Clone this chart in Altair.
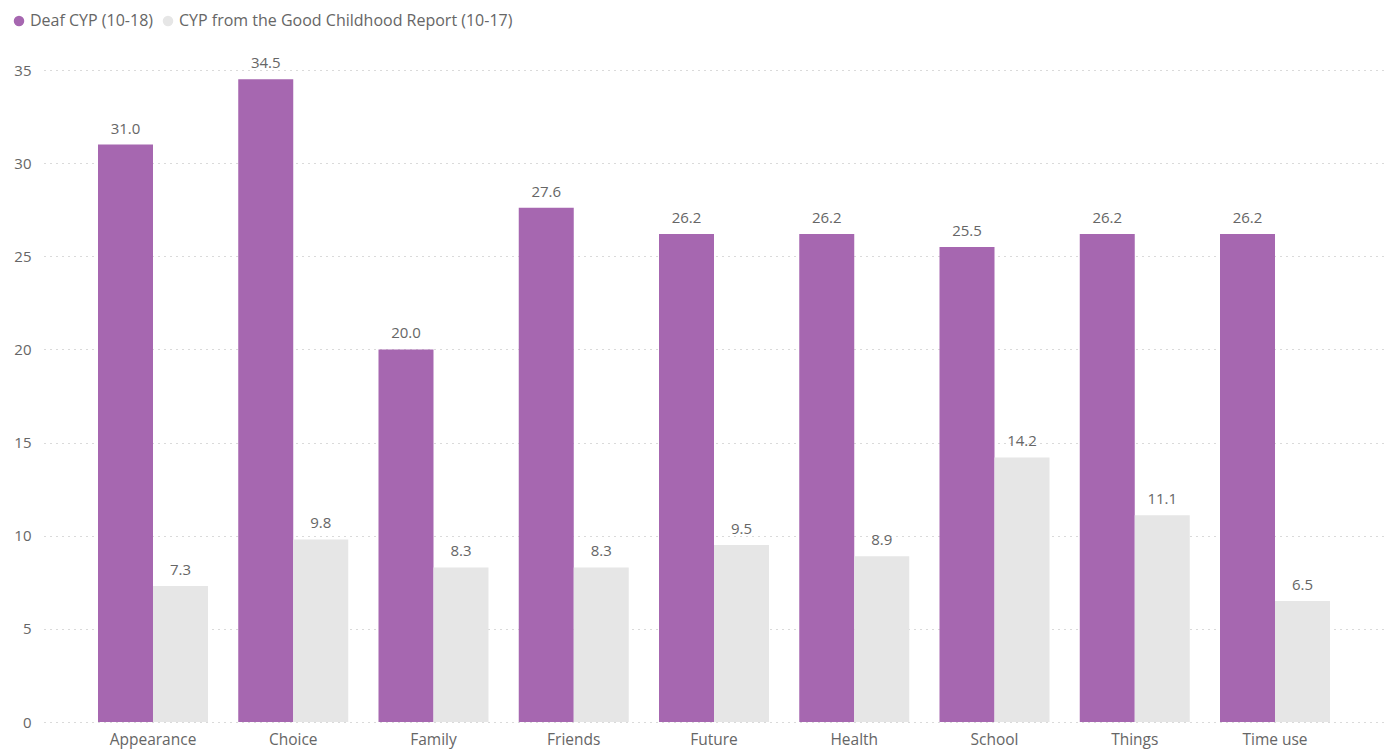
import altair as alt
import pandas as pd

categories = ["Appearance", "Choice", "Family", "Friends", "Future", "Health", "School", "Things", "Time use"]
deaf = [31.0, 34.5, 20.0, 27.6, 26.2, 26.2, 25.5, 26.2, 26.2]
good = [7.3, 9.8, 8.3, 8.3, 9.5, 8.9, 14.2, 11.1, 6.5]
series = ["Deaf CYP (10-18)", "CYP from the Good Childhood Report (10-17)"]
colors = ["#A667B0", "#E6E6E6"]

rows = []
for c, a, b in zip(categories, deaf, good):
    rows.append({"category": c, "series": series[0], "value": a})
    rows.append({"category": c, "series": series[1], "value": b})
df = pd.DataFrame(rows)

FONT = "Open Sans"
TXT = "#666666"

x = alt.X("category:N", sort=categories, title=None,
          scale=alt.Scale(paddingInner=0.2157, paddingOuter=0.385),
          axis=alt.Axis(labelAngle=0, labelFontSize=15.5, labelColor=TXT, labelFont=FONT,
                        ticks=False, domain=False, grid=False, labelPadding=10))
xo = alt.XOffset("series:N", sort=series, scale=alt.Scale(domain=series, paddingInner=0, paddingOuter=0))
y = alt.Y("value:Q", title=None,
          scale=alt.Scale(domain=[0, 35], nice=False),
          axis=alt.Axis(values=[0, 5, 10, 15, 20, 25, 30, 35], labelFontSize=15, labelColor=TXT,
                        labelFont=FONT, ticks=False, domain=False, grid=True,
                        gridDash=[1, 5], gridColor="#B4B4B4", gridWidth=1, labelPadding=13))

bars = alt.Chart(df).mark_bar().encode(
    x=x, xOffset=xo, y=y,
    color=alt.Color("series:N", sort=series,
                    scale=alt.Scale(domain=series, range=colors),
                    legend=alt.Legend(title=None, orient="none", direction="horizontal",
                                      legendX=-33, legendY=-57, symbolType="circle",
                                      symbolSize=110, labelFontSize=16, labelColor=TXT,
                                      labelFont=FONT, symbolStrokeWidth=0, columnPadding=6,
                                      labelOffset=3, padding=0, labelLimit=600)),
)

labels = alt.Chart(df).mark_text(baseline="bottom", dy=-8, fontSize=15, color=TXT, font=FONT).encode(
    x=x, xOffset=xo, y=y,
    text=alt.Text("value:Q", format=".1f"),
)

chart = alt.layer(bars, labels).properties(
    width=1340, height=652,
    autosize=alt.AutoSizeParams(type="none"),
    padding={"left": 44, "top": 70, "right": 0, "bottom": 27},
    view=alt.ViewBackground(stroke="transparent", strokeWidth=0),
).configure_view(stroke="transparent", strokeWidth=0).configure(background="white")

chart.save("out.html", embed_options={"renderer": "svg", "actions": False})
